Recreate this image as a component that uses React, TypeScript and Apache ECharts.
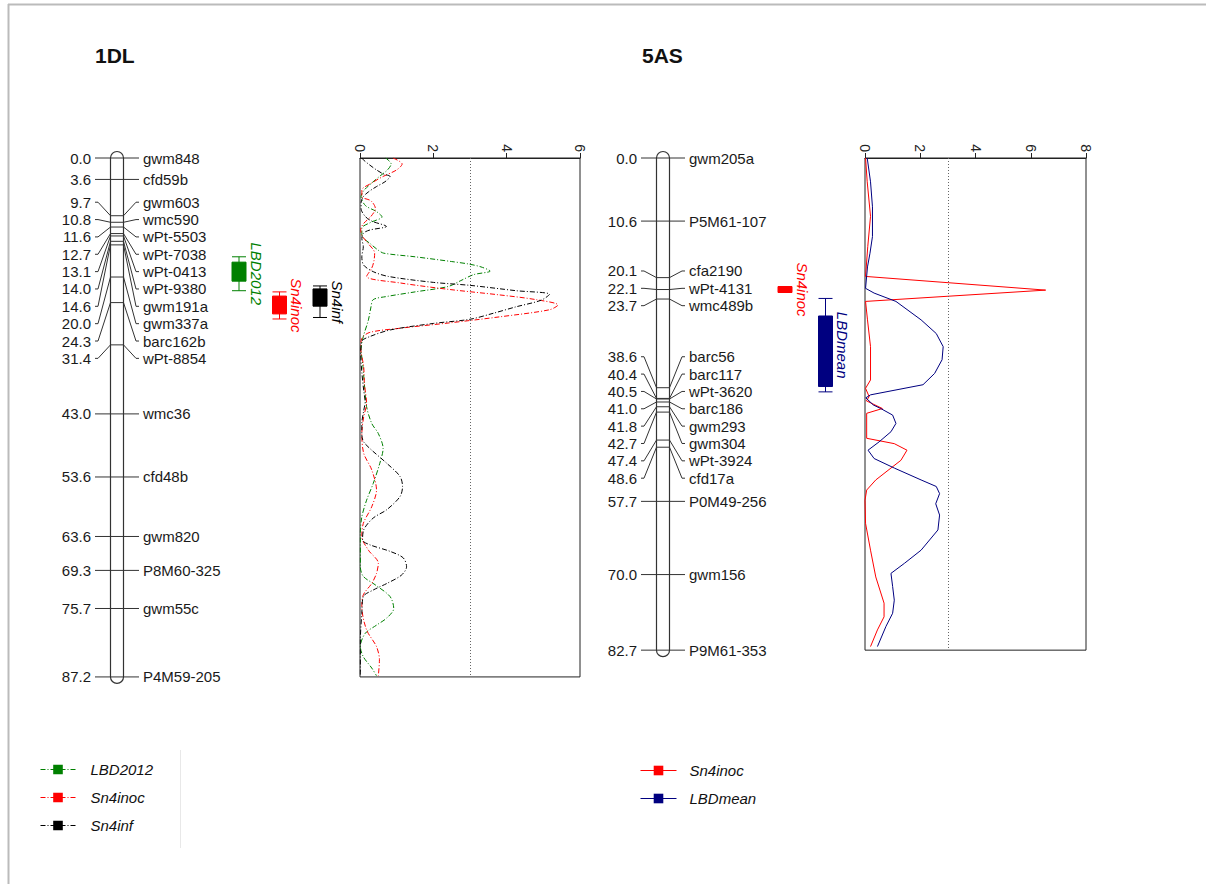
import React, { useEffect, useRef } from "react";
import * as echarts from "echarts";

// ---------- DATA ----------
const map1DLMarkers = ["gwm848", "cfd59b", "gwm603", "wmc590", "wPt-5503", "wPt-7038", "wPt-0413", "wPt-9380", "gwm191a", "gwm337a", "barc162b", "wPt-8854", "wmc36", "cfd48b", "gwm820", "P8M60-325", "gwm55c", "P4M59-205"];
const map1DLPositions = [0.0, 3.6, 9.7, 10.8, 11.6, 12.7, 13.1, 14.0, 14.6, 20.0, 24.3, 31.4, 43.0, 53.6, 63.6, 69.3, 75.7, 87.2];

const map5ASMarkers = ["gwm205a", "P5M61-107", "cfa2190", "wPt-4131", "wmc489b", "barc56", "barc117", "wPt-3620", "barc186", "gwm293", "gwm304", "wPt-3924", "cfd17a", "P0M49-256", "gwm156", "P9M61-353"];
const map5ASPositions = [0.0, 10.6, 20.1, 22.1, 23.7, 38.6, 40.4, 40.5, 41.0, 41.8, 42.7, 47.4, 48.6, 57.7, 70.0, 82.7];

// QTL intervals: [whisker low, box low, box high, whisker high] in cM
const qtl1DLNames = ["LBD2012", "Sn4inoc", "Sn4inf"];
const qtl1DLIntervals = [
  [16.6, 17.5, 20.7, 22.3],
  [22.5, 23.2, 26.2, 27.05],
  [21.5, 22.0, 24.9, 26.8],
];
const qtl5ASNames = ["Sn4inoc", "LBDmean"];
const qtl5ASIntervals = [
  [21.6, 21.6, 22.6, 22.6],
  [23.6, 26.55, 38.4, 39.3],
];

const lodTicks1DL = { max: 6, interval: 2 };
const lodTicks5AS = { max: 8, interval: 2 };
const lodThreshold = 3.0;

// LOD profiles: [cM, LOD]
const lod1DL_LBD2012 = [
  [0, 0.7], [1, 0.85], [2, 0.75], [3, 0.55], [4.2, 0.32], [5.5, 0.1], [6.5, 0.03], [8, 0.15], [9, 0.45], [9.9, 0.6],
  [10.8, 0.3], [11.8, 0.05], [13, 0.05], [14.5, 0.3], [15.5, 0.5], [16, 0.65], [16.6, 1.5], [17.4, 2.5], [17.8, 2.95],
  [18.3, 3.3], [19.0, 3.55], [19.6, 3.1], [20.6, 2.75], [21.6, 2.4], [22.5, 1.5], [23.3, 0.7], [23.8, 0.36], [25, 0.3],
  [27.2, 0.23], [30, 0.09], [32, 0.03], [35, 0.08], [38, 0.12], [41.8, 0.18], [44.6, 0.32], [46.3, 0.5], [48.8, 0.63],
  [51.3, 0.54], [54.7, 0.36], [57.5, 0.18], [60.3, 0.05], [63, 0.01], [68.7, 0.01], [70.3, 0.09], [71.7, 0.41],
  [73.7, 0.82], [75.7, 0.92], [77.3, 0.73], [78.5, 0.45], [79.9, 0.14], [82.1, 0.01], [83.8, 0.09], [85.7, 0.32], [87, 0.45],
];
const lod1DL_Sn4inoc = [
  [0, 0.9], [1, 1.15], [2, 1.0], [3.1, 0.63], [4.2, 0.32], [5.4, 0.05], [6.5, 0.05], [7.2, 0.3], [8.5, 0.42], [9.8, 0.3],
  [11, 0.1], [12, 0.02], [13, 0.05], [14.2, 0.2], [16, 0.4], [17.3, 0.38], [18.5, 0.32], [19.9, 0.18], [21, 1.1],
  [22.1, 2.45], [23.0, 3.8], [23.8, 4.8], [24.7, 5.4], [25.5, 5.17], [26.7, 3.8], [27.7, 2.45], [28.6, 1.1], [29.3, 0.27],
  [30.3, 0.05], [32, 0.02], [35, 0.1], [38, 0.12], [41.2, 0.18], [43.5, 0.1], [46.3, 0.05], [49.6, 0.1], [52.4, 0.32],
  [55.8, 0.45], [58.6, 0.32], [61.4, 0.09], [63.6, 0.05], [65.9, 0.23], [68.1, 0.5], [69.8, 0.45], [71.5, 0.32],
  [73.4, 0.09], [75.4, 0.05], [79.3, 0.18], [82.1, 0.45], [84.3, 0.53], [87, 0.5],
];
const lod1DL_Sn4inf = [
  [0, 0.05], [0.3, 0.09], [1.2, 0.27], [2.0, 0.45], [2.7, 0.64], [3.1, 0.82], [4.0, 0.68], [4.8, 0.45], [5.7, 0.23],
  [6.5, 0.09], [7.5, 0.03], [8.5, 0.03], [9.8, 0.14], [10.6, 0.32], [11.5, 0.72], [12.1, 0.27], [12.6, 0.1], [13.5, 0.05],
  [14.9, 0.09], [16.6, 0.05], [18, 0.1], [19.1, 0.36], [19.9, 0.77], [20.9, 2.0], [21.4, 3.0], [22.3, 4.26], [22.9, 5.17],
  [23.9, 4.94], [25.0, 4.26], [26.1, 3.63], [27.1, 3.0], [27.8, 2.0], [28.9, 0.82], [30.0, 0.27], [30.8, 0.05], [33, 0.02],
  [36, 0.05], [39, 0.1], [41, 0.14], [42.5, 0.1], [44.6, 0.05], [46.5, 0.05], [47.7, 0.1], [49.1, 0.32], [51.3, 0.73],
  [53.5, 1.09], [55.2, 1.16], [56.9, 1.09], [59.1, 0.73], [60.5, 0.36], [62.5, 0.1], [64.2, 0.07], [65.0, 0.27],
  [66.1, 0.82], [67.2, 1.18], [68.7, 1.27], [70.1, 1.13], [71.5, 0.73], [72.6, 0.36], [73.7, 0.09], [76.5, 0.05],
  [81, 0.01], [87, 0.01],
];
const lod5AS_Sn4inoc = [
  [0, 0.02], [4, 0.08], [9.8, 0.2], [14.9, 0.1], [19.9, 0.02], [22.2, 6.54], [24.1, 0.02], [27.2, 0.09], [31.7, 0.2],
  [37.3, 0.2], [38.7, 0.02], [40.1, 0.15], [40.8, 0.05], [42.1, 0.63], [42.9, 0.06], [47.1, 0.06], [48.0, 1.06],
  [49.1, 1.52], [50.8, 1.3], [52.1, 0.94], [54.1, 0.39], [55.8, 0.06], [57.5, 0.0], [61.4, 0.02], [65.9, 0.2],
  [70.4, 0.39], [74.8, 0.69], [77.1, 0.69], [79.3, 0.45], [82.1, 0.2],
];
const lod5AS_LBDmean = [
  [0, 0.08], [4, 0.2], [8.2, 0.27], [13.2, 0.27], [16, 0.18], [18.3, 0.09], [21.9, 0.02], [22.7, 0.33], [24.1, 1.12],
  [27.2, 2.03], [29.5, 2.58], [31.7, 2.83], [33.9, 2.79], [36.2, 2.52], [38.1, 2.1], [39.8, 0.2], [40.3, 0.03],
  [41.5, 0.3], [42.1, 0.57], [43.2, 1.0], [44.6, 1.12], [46, 0.94], [47.7, 0.51], [49.1, 0.11], [50.5, 0.33],
  [52.1, 1.06], [54.1, 2.03], [55.2, 2.58], [56.4, 2.7], [58.1, 2.56], [60.0, 2.7], [62.5, 2.64], [65.9, 2.03],
  [68.1, 1.43], [69.8, 0.94], [72.0, 1.0], [74.3, 1.06], [76.5, 1.0], [78.7, 0.76], [82.1, 0.45],
];

// ---------- STYLE / LAYOUT ----------
const FONT = 'Arial, "Liberation Sans", Helvetica, sans-serif';
const traitColor: Record<string, string> = {
  LBD2012: "#008000",
  Sn4inoc: "#ff0000",
  Sn4inf: "#000000",
  LBDmean: "#000080",
};
const MAP_TOP = 158;
const PX_PER_CM = 5.951;
const LABEL_GAP_PX = 17.35;
const DASH_DOT = [5, 2, 1, 2];

function spreadLabels(pos: number[], gap: number): number[] {
  const n = pos.length;
  const place = (s: number, e: number) => {
    const c = (pos[s] + pos[e]) / 2;
    const k = e - s + 1;
    return { top: c - ((k - 1) / 2) * gap, bottom: c + ((k - 1) / 2) * gap };
  };
  const groups: { s: number; e: number }[] = [];
  let i = 0;
  while (i < n) {
    let g = { s: i, e: i };
    const absorb = () => {
      while (g.e + 1 < n && pos[g.e + 1] < place(g.s, g.e).bottom + gap) g.e++;
    };
    absorb();
    while (groups.length) {
      const prev = groups[groups.length - 1];
      if (place(g.s, g.e).top < place(prev.s, prev.e).bottom + gap) {
        groups.pop();
        g = { s: prev.s, e: g.e };
        absorb();
      } else break;
    }
    groups.push(g);
    i = g.e + 1;
  }
  const out: number[] = new Array(n);
  groups.forEach((g) => {
    const p = place(g.s, g.e);
    for (let j = g.s; j <= g.e; j++) out[j] = p.top + (j - g.s) * gap;
  });
  return out;
}

function chromosomeSeries(gridIdx: number, positions: number[], offset: number) {
  const len = positions[positions.length - 1];
  return {
    type: "custom",
    xAxisIndex: gridIdx,
    yAxisIndex: gridIdx,
    silent: true,
    z: 2,
    data: [[0, 0, len]],
    encode: { x: 0, y: 1 },
    renderItem: (params: any, api: any) => {
      const cs = params.coordSys;
      const xc = cs.x + offset;
      const y0 = api.coord([0, api.value(1)])[1];
      const y1 = api.coord([0, api.value(2)])[1];
      return {
        type: "rect",
        shape: { x: xc - 6.5, y: y0 - 6.5, width: 13, height: y1 - y0 + 13, r: 6.5 },
        style: { fill: "#ffffff", stroke: "#333333", lineWidth: 1.2 },
      };
    },
  };
}

function markerSeries(gridIdx: number, names: string[], positions: number[], offset: number) {
  const labelPos = spreadLabels(positions, LABEL_GAP_PX / PX_PER_CM);
  return {
    type: "custom",
    xAxisIndex: gridIdx,
    yAxisIndex: gridIdx,
    silent: true,
    z: 3,
    data: positions.map((p, i) => [0, p, labelPos[i]]),
    encode: { x: 0, y: 1 },
    renderItem: (params: any, api: any) => {
      const cs = params.coordSys;
      const i = params.dataIndex;
      const xc = cs.x + offset;
      const y = api.coord([0, api.value(1)])[1];
      const ly = api.coord([0, api.value(2)])[1];
      return {
        type: "group",
        children: [
          {
            type: "polyline",
            shape: { points: [[xc - 22, ly], [xc - 19, ly], [xc - 6.5, y], [xc + 6.5, y], [xc + 19, ly], [xc + 22, ly]] },
            style: { stroke: "#333333", lineWidth: 1, fill: "none" },
          },
          {
            type: "text",
            style: { text: positions[i].toFixed(1), x: xc - 26, y: ly, align: "right", verticalAlign: "middle", fontSize: 15, fontFamily: FONT, fill: "#1a1a1a" },
          },
          {
            type: "text",
            style: { text: names[i], x: xc + 26, y: ly, align: "left", verticalAlign: "middle", fontSize: 15, fontFamily: FONT, fill: "#1a1a1a" },
          },
        ],
      };
    },
  };
}

function qtlSeries(gridIdx: number, names: string[], intervals: number[][], offset: number) {
  return {
    type: "custom",
    xAxisIndex: gridIdx,
    yAxisIndex: gridIdx,
    silent: true,
    z: 3,
    data: intervals.map((q) => [0, q[0], q[1], q[2], q[3]]),
    encode: { x: 0, y: 1 },
    renderItem: (params: any, api: any) => {
      const cs = params.coordSys;
      const k = params.dataIndex;
      const color = traitColor[names[k]];
      const x = cs.x + offset + 122 + 40.5 * k;
      const yw0 = api.coord([0, api.value(1)])[1];
      const yb0 = api.coord([0, api.value(2)])[1];
      const yb1 = api.coord([0, api.value(3)])[1];
      const yw1 = api.coord([0, api.value(4)])[1];
      return {
        type: "group",
        children: [
          { type: "line", shape: { x1: x, y1: yw0, x2: x, y2: yw1 }, style: { stroke: color, lineWidth: 1 } },
          { type: "line", shape: { x1: x - 7, y1: yw0, x2: x + 7, y2: yw0 }, style: { stroke: color, lineWidth: 1 } },
          { type: "line", shape: { x1: x - 7, y1: yw1, x2: x + 7, y2: yw1 }, style: { stroke: color, lineWidth: 1 } },
          { type: "rect", shape: { x: x - 7, y: yb0, width: 14, height: Math.max(yb1 - yb0, 1) }, style: { fill: color, stroke: color, lineWidth: 1 } },
          {
            type: "text",
            x: x + 17,
            y: (yw0 + yw1) / 2,
            rotation: -Math.PI / 2,
            style: { text: names[k], x: 0, y: 0, align: "center", verticalAlign: "middle", fontSize: 15, fontStyle: "italic", fontFamily: FONT, fill: color },
          },
        ],
      };
    },
  };
}

function lodSeries(name: string, gridIdx: number, data: number[][], dashed: boolean, withThreshold: boolean) {
  const color = traitColor[name];
  const s: any = {
    type: "line",
    name,
    xAxisIndex: gridIdx,
    yAxisIndex: gridIdx,
    data: data.map((d) => [d[1], d[0]]),
    showSymbol: false,
    symbol: "rect",
    smooth: dashed ? 0.3 : false,
    z: 4,
    lineStyle: { color, width: 1, type: dashed ? DASH_DOT : "solid" },
    itemStyle: { color },
  };
  if (withThreshold) {
    s.markLine = {
      silent: true,
      symbol: ["none", "none"],
      label: { show: false },
      lineStyle: { color: "#666666", width: 1, type: [1, 2] },
      data: [{ xAxis: lodThreshold }],
    };
  }
  return s;
}

function lodXAxis(gridIdx: number, ticks: { max: number; interval: number }) {
  return {
    gridIndex: gridIdx,
    type: "value",
    min: 0,
    max: ticks.max,
    interval: ticks.interval,
    position: "top",
    axisLine: { show: true, lineStyle: { color: "#222222", width: 1 } },
    axisTick: { show: true, length: 5, lineStyle: { color: "#222222" } },
    axisLabel: { rotate: -90, margin: 6, fontSize: 14, color: "#222222", fontFamily: FONT },
    splitLine: { show: false },
  };
}

function buildOption() {
  const len1 = map1DLPositions[map1DLPositions.length - 1];
  const len5 = map5ASPositions[map5ASPositions.length - 1];
  const h1 = len1 * PX_PER_CM;
  const h5 = len5 * PX_PER_CM;
  const legendText = { fontFamily: FONT, fontSize: 15, fontStyle: "italic", color: "#111111" };
  return {
    animation: false,
    backgroundColor: "#ffffff",
    title: [
      { text: "1DL", left: 95, top: 45, padding: 0, textStyle: { fontFamily: FONT, fontSize: 21, fontWeight: "bold", color: "#111111" } },
      { text: "5AS", left: 642, top: 45, padding: 0, textStyle: { fontFamily: FONT, fontSize: 21, fontWeight: "bold", color: "#111111" } },
    ],
    grid: [
      { left: 0, top: MAP_TOP, width: 360, height: h1 },
      { left: 360, top: MAP_TOP, width: 220, height: h1, show: true, borderColor: "#222222", borderWidth: 1 },
      { left: 600, top: MAP_TOP, width: 265, height: h5 },
      { left: 865, top: MAP_TOP, width: 221, height: h5, show: true, borderColor: "#222222", borderWidth: 1 },
    ],
    xAxis: [
      { gridIndex: 0, type: "value", min: 0, max: 360, show: false },
      lodXAxis(1, lodTicks1DL),
      { gridIndex: 2, type: "value", min: 0, max: 265, show: false },
      lodXAxis(3, lodTicks5AS),
    ],
    yAxis: [
      { gridIndex: 0, type: "value", min: 0, max: len1, inverse: true, show: false },
      { gridIndex: 1, type: "value", min: 0, max: len1, inverse: true, show: false },
      { gridIndex: 2, type: "value", min: 0, max: len5, inverse: true, show: false },
      { gridIndex: 3, type: "value", min: 0, max: len5, inverse: true, show: false },
    ],
    legend: [
      {
        left: 40, top: 762, orient: "vertical", padding: 0, itemWidth: 35, itemHeight: 12, itemGap: 13,
        selectedMode: false, lineStyle: { width: 1 },
        textStyle: { ...legendText, padding: [0, 0, 0, 10] },
        data: ["LBD2012", "Sn4inoc", "Sn4inf"],
      },
      {
        left: 640, top: 763, orient: "vertical", padding: 0, itemWidth: 36, itemHeight: 12, itemGap: 13,
        selectedMode: false, lineStyle: { width: 1 },
        textStyle: { ...legendText, padding: [0, 0, 0, 8] },
        data: [{ name: "Sn4inoc", lineStyle: { type: "solid" } }, "LBDmean"],
      },
    ],
    graphic: [
      { type: "line", silent: true, shape: { x1: 8, y1: 4.5, x2: 1206, y2: 4.5 }, style: { stroke: "#bbbbbb", lineWidth: 2 } },
      { type: "line", silent: true, shape: { x1: 8.5, y1: 4, x2: 8.5, y2: 884 }, style: { stroke: "#bbbbbb", lineWidth: 2 } },
      { type: "line", silent: true, shape: { x1: 180.5, y1: 750, x2: 180.5, y2: 848 }, style: { stroke: "#e8e8e8", lineWidth: 1 } },
    ],
    series: [
      lodSeries("LBD2012", 1, lod1DL_LBD2012, true, true),
      lodSeries("Sn4inoc", 1, lod1DL_Sn4inoc, true, false),
      lodSeries("Sn4inf", 1, lod1DL_Sn4inf, true, false),
      lodSeries("Sn4inoc", 3, lod5AS_Sn4inoc, false, true),
      lodSeries("LBDmean", 3, lod5AS_LBDmean, false, false),
      chromosomeSeries(0, map1DLPositions, 117),
      markerSeries(0, map1DLMarkers, map1DLPositions, 117),
      qtlSeries(0, qtl1DLNames, qtl1DLIntervals, 117),
      chromosomeSeries(2, map5ASPositions, 63),
      markerSeries(2, map5ASMarkers, map5ASPositions, 63),
      qtlSeries(2, qtl5ASNames, qtl5ASIntervals, 63),
    ],
  };
}

export default function App() {
  const ref = useRef<HTMLDivElement>(null);
  useEffect(() => {
    document.body.style.margin = "0";
    const chart = echarts.init(ref.current as HTMLDivElement, null, { renderer: "svg" });
    chart.setOption(buildOption() as any);
    return () => chart.dispose();
  }, []);
  return <div ref={ref} style={{ width: 1206, height: 884 }} />;
}
